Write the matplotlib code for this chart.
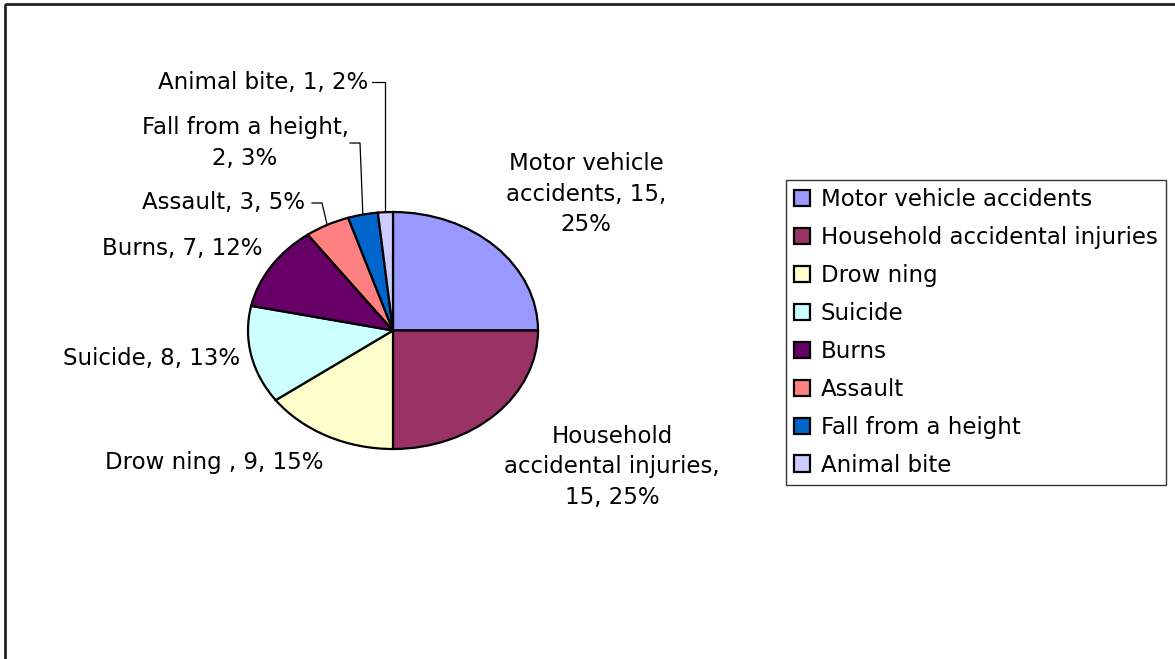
import matplotlib
matplotlib.use('Agg')
import matplotlib.pyplot as plt
import numpy as np
from matplotlib.patches import Rectangle

# ---------------- data ----------------
categories = ["Motor vehicle accidents", "Household accidental injuries", "Drow ning",
              "Suicide", "Burns", "Assault", "Fall from a height", "Animal bite"]
values = [15, 15, 9, 8, 7, 3, 2, 1]
colors = ["#9999FF", "#993366", "#FFFFCC", "#CCFFFF", "#660066", "#FF8080", "#0066CC", "#CCCCFF"]
total = sum(values)
percents = [int(round(100.0 * v / total)) for v in values]
label_names = ["Motor vehicle\naccidents", "Household\naccidental injuries", "Drow ning ",
               "Suicide", "Burns", "Assault", "Fall from a height", "Animal bite"]
# where each label text breaks lines (layout)
label_fmt = ["{n}, {v},\n{p}%", "{n},\n{v}, {p}%", "{n}, {v}, {p}%", "{n}, {v}, {p}%",
             "{n}, {v}, {p}%", "{n}, {v}, {p}%", "{n},\n{v}, {p}%", "{n}, {v}, {p}%"]

# ---------------- layout ----------------
W, H = 1175, 659
FS = 16.5
plt.rcParams['font.family'] = ['DejaVu Sans']

fig = plt.figure(figsize=(W / 100, H / 100), dpi=100)
fig.patch.set_facecolor('white')

# overlay in pixel coordinates (y downward)
ov = fig.add_axes([0, 0, 1, 1])
ov.set_xlim(0, W)
ov.set_ylim(H, 0)
ov.axis('off')
ov.add_patch(Rectangle((5, 3.5), W + 50, H + 50, fill=False, edgecolor='#222222', linewidth=2.0))

# pie axes: ellipse centre (393, 330.5), rx 145, ry 118.5
cx, cy, rx, ry = 393, 330.5, 145, 118.5
ax = fig.add_axes([(cx - rx) / W, 1 - (cy + ry) / H, 2 * rx / W, 2 * ry / H])
ax.patch.set_alpha(0)
wedges, _ = ax.pie(values, colors=colors, startangle=90, counterclock=False,
                   wedgeprops=dict(edgecolor='black', linewidth=1.6))
for w in wedges:
    w.set_clip_on(False)
ax.set_xlim(-1, 1)
ax.set_ylim(-1, 1)
ax.set_aspect('auto')
ax.axis('off')

# label placements (pixel coords): x, y, ha
label_pos = [(586, 194, 'center'), (612, 467, 'center'), (105, 462, 'left'),
             (240, 358, 'right'), (262, 248, 'right'), (305, 203, 'right'),
             (245, 143, 'center'), (368, 82, 'right')]
# leader lines: (start, elbow) in pixel coords; None = elbow above anchor
leaders = {5: ((312, 203), (322, 203)), 6: ((350, 143), (360, 143)), 7: ((372, 82), None)}

fig.canvas.draw()
to_ov = ov.transData.inverted()
cum = 0
for i, v in enumerate(values):
    theta = np.deg2rad(90 - 360.0 * (cum + v / 2.0) / total)
    cum += v
    txt = label_fmt[i].format(n=label_names[i], v=v, p=percents[i])
    x, y, ha = label_pos[i]
    ov.text(x, y, txt, ha=ha, va='center', fontsize=FS, linespacing=1.4, color='black')
    if i in leaders:
        anchor_disp = ax.transData.transform((np.cos(theta), np.sin(theta)))
        axp, ayp = to_ov.transform(anchor_disp)
        start, elbow = leaders[i]
        if elbow is None:
            elbow = (axp, start[1])
        xs = [start[0], elbow[0], axp]
        ys = [start[1], elbow[1], ayp]
        ov.plot(xs, ys, color='black', linewidth=0.9)

leg = fig.legend(wedges, categories, loc='upper left',
                 bbox_to_anchor=(786 / W, 1 - 180 / H), fontsize=FS,
                 frameon=True, fancybox=False, edgecolor='#333333', framealpha=1,
                 handlelength=0.7, handleheight=0.7, handletextpad=0.45,
                 labelspacing=0.65, borderpad=0.36, borderaxespad=0)
leg.get_frame().set_linewidth(1.0)

fig.savefig('out.png', dpi=100)
